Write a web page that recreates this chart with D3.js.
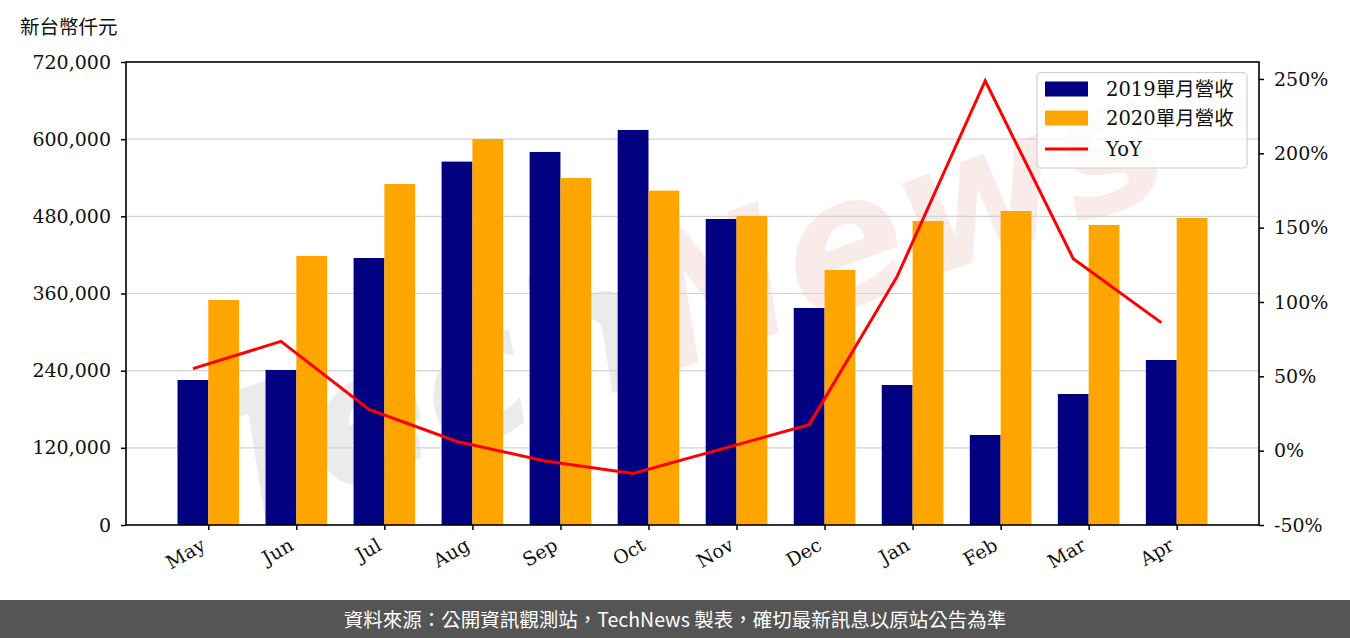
<!DOCTYPE html>
<html>
<head>
<meta charset="utf-8">
<script src="https://cdn.jsdelivr.net/npm/d3@7"></script>
<style>
  html, body { margin: 0; padding: 0; background: #fff; }
  svg { display: block; }
</style>
</head>
<body>
<svg id="chart" width="1350" height="638"></svg>
<script>
// ---- data ----
const months = ["May","Jun","Jul","Aug","Sep","Oct","Nov","Dec","Jan","Feb","Mar","Apr"];
const rev2019 = [225500, 241100, 415200, 565100, 580100, 614300, 475900, 337500, 217700, 140000, 203700, 256600];
const rev2020 = [349900, 418400, 530300, 600300, 539700, 520000, 480600, 396600, 472800, 488300, 466600, 477500];
const yoy = [55.2, 73.5, 27.7, 6.2, -7.0, -15.4, 1.0, 17.5, 117.2, 248.8, 129.1, 86.1];
const leftTicks = [0, 120000, 240000, 360000, 480000, 600000, 720000];
const rightTicks = [-50, 0, 50, 100, 150, 200, 250];
const seriesNames = ["2019單月營收", "2020單月營收", "YoY"];
const unitLabel = "新台幣仟元";
const footerText = "資料來源：公開資訊觀測站，TechNews 製表，確切最新訊息以原站公告為準";

const colors = { y2019: "#000080", y2020: "#ffa500", yoy: "#ff0000" };
const serif = "'DejaVu Serif', 'Noto Sans CJK TC', serif";
const cjk = "'Noto Sans CJK TC', 'Noto Sans', sans-serif";

const svg = d3.select("#chart");
const L = 126, R = 1259, T = 62, B = 525;
const barW = 0.35;

const x = d3.scaleLinear().domain([-0.935, 11.935]).range([L, R]);
const yL = d3.scaleLinear().domain([0, 720000]).range([B, T]);
const yR = d3.scaleLinear().domain([-50, 261.4]).range([B, T]);

// watermark (faint, clipped to plot area)
svg.append("defs").append("clipPath").attr("id", "plotclip")
  .append("rect").attr("x", L).attr("y", T).attr("width", R - L).attr("height", B - T);
const wm = svg.append("g").attr("clip-path", "url(#plotclip)")
  .append("g").attr("transform", "translate(685,300) rotate(-20)")
  .style("font-family", "'DejaVu Sans', sans-serif").style("font-style", "italic")
  .style("font-weight", "bold").style("font-size", "180px");
const wmText = wm.append("text").attr("text-anchor", "middle").attr("dy", "0.35em");
wmText.append("tspan").text("Tech").attr("fill", "#000").attr("fill-opacity", 0.08);
wmText.append("tspan").text("News").attr("fill", "#d23c3c").attr("fill-opacity", 0.1);

// grid
svg.append("g").selectAll("line").data(leftTicks.slice(1, -1)).join("line")
  .attr("x1", L).attr("x2", R)
  .attr("y1", d => yL(d)).attr("y2", d => yL(d))
  .attr("stroke", "#d3d3d3").attr("stroke-width", 1.2);

// bars
const bars = svg.append("g");
bars.selectAll(".b19").data(rev2019).join("rect")
  .attr("x", (d, i) => x(i - barW)).attr("width", (d, i) => x(i) - x(i - barW))
  .attr("y", d => yL(d)).attr("height", d => yL(0) - yL(d))
  .attr("fill", colors.y2019);
bars.selectAll(".b20").data(rev2020).join("rect")
  .attr("x", (d, i) => x(i)).attr("width", (d, i) => x(i + barW) - x(i))
  .attr("y", d => yL(d)).attr("height", d => yL(0) - yL(d))
  .attr("fill", colors.y2020);

// yoy line
const line = d3.line().x((d, i) => x(i - barW / 2)).y(d => yR(d));
svg.append("path").datum(yoy).attr("d", line)
  .attr("fill", "none").attr("stroke", colors.yoy).attr("stroke-width", 3)
  .attr("stroke-linejoin", "miter");

// axes
const leftAxis = d3.axisLeft(yL).tickValues(leftTicks).tickFormat(d3.format(","))
  .tickSize(5).tickPadding(10);
const rightAxis = d3.axisRight(yR).tickValues(rightTicks).tickFormat(d => d + "%")
  .tickSize(5).tickPadding(10);
const bottomAxis = d3.axisBottom(x).tickValues(d3.range(months.length))
  .tickFormat(i => months[i]).tickSize(5).tickPadding(6);

function styleAxis(g) {
  g.select(".domain").remove();
  g.selectAll(".tick line").attr("stroke", "#000").attr("stroke-width", 1.5);
  g.selectAll(".tick text").attr("fill", "#111").style("font-family", serif).style("font-size", "19px");
}
svg.append("g").attr("transform", `translate(${L},0)`).call(leftAxis).call(styleAxis);
svg.append("g").attr("transform", `translate(${R},0)`).call(rightAxis).call(styleAxis);
const bx = svg.append("g").attr("transform", `translate(0,${B})`).call(bottomAxis).call(styleAxis);
bx.selectAll(".tick text")
  .attr("text-anchor", "end").attr("dy", null).attr("y", null)
  .attr("transform", "translate(-2,24) rotate(-30)");

// frame
svg.append("rect").attr("x", L).attr("y", T).attr("width", R - L).attr("height", B - T)
  .attr("fill", "none").attr("stroke", "#000").attr("stroke-width", 1.6);

// unit label
svg.append("text").attr("x", 20).attr("y", 34).text(unitLabel)
  .style("font-family", cjk).style("font-size", "19.5px").attr("fill", "#111");

// legend
const lg = svg.append("g");
lg.append("rect").attr("x", 1037).attr("y", 72.5).attr("width", 210).attr("height", 95.5)
  .attr("rx", 4).attr("fill", "#fff").attr("fill-opacity", 0.8)
  .attr("stroke", "#d0d0d0").attr("stroke-width", 1.2);
const rowsY = [89, 118, 149];
lg.append("rect").attr("x", 1045).attr("y", rowsY[0] - 7.5).attr("width", 43).attr("height", 15).attr("fill", colors.y2019);
lg.append("rect").attr("x", 1045).attr("y", rowsY[1] - 7.5).attr("width", 43).attr("height", 15).attr("fill", colors.y2020);
lg.append("line").attr("x1", 1045).attr("x2", 1088).attr("y1", rowsY[2]).attr("y2", rowsY[2])
  .attr("stroke", colors.yoy).attr("stroke-width", 3);
lg.selectAll(".lt").data(seriesNames).join("text")
  .attr("x", 1106).attr("y", (d, i) => rowsY[i]).attr("dy", "0.35em").text(d => d)
  .style("font-family", serif).style("font-size", "19.5px").attr("fill", "#111");

// footer
svg.append("rect").attr("x", 0).attr("y", 600).attr("width", 1350).attr("height", 38).attr("fill", "#555555");
svg.append("text").attr("x", 675).attr("y", 620).attr("dy", "0.35em").attr("text-anchor", "middle")
  .text(footerText).style("font-family", cjk).style("font-size", "19.5px").attr("fill", "#fff");
</script>
</body>
</html>
